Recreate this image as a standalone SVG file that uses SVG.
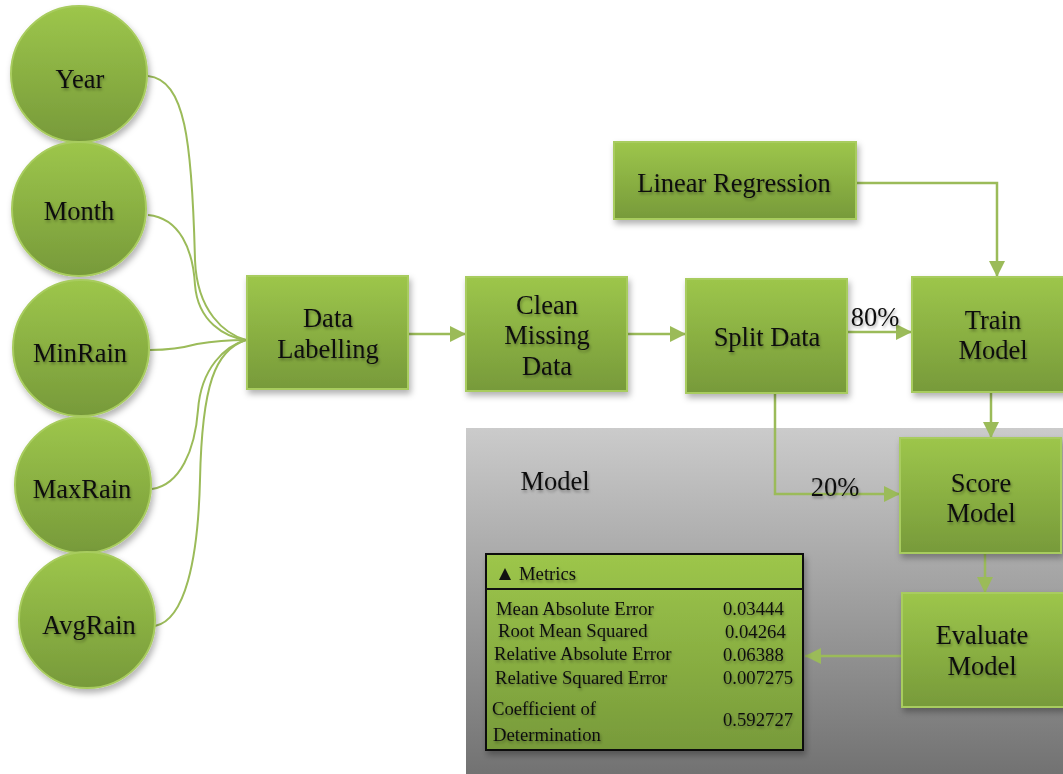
<svg xmlns="http://www.w3.org/2000/svg" width="1063" height="774" viewBox="0 0 1063 774">
<defs>
<linearGradient id="gn" x1="0" y1="0" x2="0" y2="1">
<stop offset="0" stop-color="#9dc64b"/>
<stop offset="1" stop-color="#779a3a"/>
</linearGradient>
<linearGradient id="gp" x1="0" y1="0" x2="0" y2="1">
<stop offset="0" stop-color="#cbcbcb"/>
<stop offset="1" stop-color="#727272"/>
</linearGradient>
<filter id="sh" x="-20%" y="-20%" width="140%" height="150%">
<feDropShadow dx="2" dy="4" stdDeviation="3" flood-color="#000" flood-opacity="0.3"/>
</filter>
<filter id="ts" x="-10%" y="-20%" width="120%" height="150%">
<feDropShadow dx="1" dy="2" stdDeviation="1.5" flood-color="#000" flood-opacity="0.35"/>
</filter>
<marker id="ah" viewBox="0 0 10 10" refX="10" refY="5" markerWidth="16" markerHeight="16" markerUnits="userSpaceOnUse" orient="auto">
<path d="M0,0 L10,5 L0,10 Z" fill="#9bbb59"/>
</marker>
<style>
.node{fill:url(#gn);stroke:#a8cc5e;stroke-width:2;filter:url(#sh)}
.t{font-family:"Liberation Serif","Times New Roman",serif;font-size:26.5px;fill:#111;text-anchor:middle;filter:url(#ts)}
.m{font-family:"Liberation Serif","Times New Roman",serif;font-size:18.7px;fill:#111;filter:url(#ts)}
.c{fill:none;stroke:#9bbb59;stroke-width:2}
.a{fill:none;stroke:#9bbb59;stroke-width:2.5;marker-end:url(#ah)}
</style>
</defs>
<rect x="0" y="0" width="1063" height="774" fill="#ffffff"/>
<rect id="panel" x="466" y="428" width="597" height="346" fill="url(#gp)"/>
<text class="t" x="555" y="490" font-size="25">Model</text>

<g id="connectors">
<path class="c" d="M148,76 C185,80 192,140 195,260 C197,312 225,334 246,340"/>
<path class="c" d="M148,215 C180,218 193,250 195,285 C198,322 225,337 246,340"/>
<path class="c" d="M150,350 C172,350 186,347 197,344 C215,341 230,340 246,340"/>
<path class="c" d="M152,489 C180,485 195,450 198,410 C201,368 225,346 246,340"/>
<path class="c" d="M155,626 C185,620 198,560 200,480 C202,385 215,350 246,340"/>
<path class="a" d="M408,334 L466,334"/>
<path class="a" d="M627,334 L686,334"/>
<path class="a" d="M847,332 L912,332"/>
<path class="a" d="M856,183 L997,183 L997,277"/>
<path class="a" d="M991,392 L991,438"/>
<path class="a" d="M775,393 L775,494 L900,494"/>
<path class="a" d="M985,553 L985,593"/>
<path class="a" d="M902,656 L805,656"/>
</g>

<g id="year"><circle class="node" cx="79" cy="74" r="68"/><text class="t" x="80" y="88">Year</text></g>
<g id="month"><circle class="node" cx="79" cy="209" r="67"/><text class="t" x="79" y="220">Month</text></g>
<g id="minrain"><circle class="node" cx="81" cy="348" r="68"/><text class="t" x="80" y="362">MinRain</text></g>
<g id="maxrain"><circle class="node" cx="83" cy="485" r="68"/><text class="t" x="82" y="498">MaxRain</text></g>
<g id="avgrain"><circle class="node" cx="87" cy="620" r="68"/><text class="t" x="89" y="634">AvgRain</text></g>

<g id="datalabelling"><rect class="node" x="247" y="276" width="161" height="113"/><text class="t" x="328" y="327">Data</text><text class="t" x="328" y="358">Labelling</text></g>
<g id="cleanmissing"><rect class="node" x="466" y="277" width="161" height="114"/><text class="t" x="547" y="314">Clean</text><text class="t" x="547" y="344">Missing</text><text class="t" x="547" y="375">Data</text></g>
<g id="splitdata"><rect class="node" x="686" y="279" width="161" height="114"/><text class="t" x="767" y="346">Split Data</text></g>
<g id="linreg"><rect class="node" x="614" y="142" width="242" height="77"/><text class="t" x="734" y="192">Linear Regression</text></g>
<g id="train"><rect class="node" x="912" y="277" width="155" height="115"/><text class="t" x="993" y="329">Train</text><text class="t" x="993" y="359">Model</text></g>
<g id="score"><rect class="node" x="900" y="438" width="161" height="115"/><text class="t" x="981" y="492">Score</text><text class="t" x="981" y="522">Model</text></g>
<g id="evaluate"><rect class="node" x="902" y="593" width="165" height="114"/><text class="t" x="982" y="644">Evaluate</text><text class="t" x="982" y="675">Model</text></g>

<text class="t" x="875" y="326" font-size="25">80%</text>
<text class="t" x="835" y="496" font-size="25">20%</text>

<g id="metrics">
<rect x="486" y="554" width="317" height="196" fill="url(#gn)" stroke="#111" stroke-width="2" filter="url(#sh)"/>
<line x1="486" y1="589" x2="803" y2="589" stroke="#111" stroke-width="2"/>
<path d="M499,580 L505,568 L511,580 Z" fill="#111"/>
<text class="m" x="519" y="580" font-size="17">Metrics</text>
<text class="m" x="496" y="615">Mean Absolute Error</text>
<text class="m" x="498" y="637">Root Mean Squared</text>
<text class="m" x="494" y="660">Relative Absolute Error</text>
<text class="m" x="495" y="684">Relative Squared Error</text>
<text class="m" x="492" y="715">Coefficient of</text>
<text class="m" x="493" y="741">Determination</text>
<text class="m" x="723" y="615">0.03444</text>
<text class="m" x="725" y="638">0.04264</text>
<text class="m" x="723" y="661">0.06388</text>
<text class="m" x="723" y="684">0.007275</text>
<text class="m" x="723" y="726">0.592727</text>
</g>
</svg>
